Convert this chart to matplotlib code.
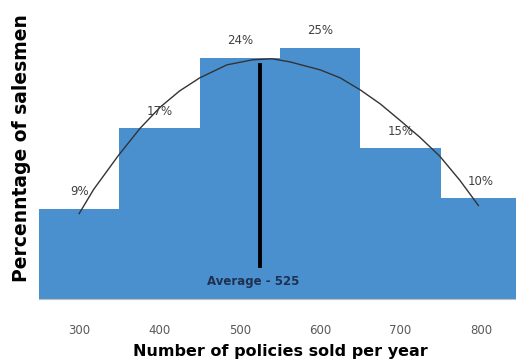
import numpy as np
import matplotlib
matplotlib.use("Agg")
import matplotlib.pyplot as plt

# bar data (policies sold per year, % of salesmen)
policies = [300, 400, 500, 600, 700, 800]
percent = [9, 17, 24, 25, 15, 10]
pct_labels = ["9%", "17%", "24%", "25%", "15%", "10%"]

# hand-drawn bell curve
curve_x = [300, 318, 349, 376, 401, 425, 450, 484, 516, 540, 562,
           600, 625, 650, 675, 699, 724, 749, 774, 797]
curve_y = [8.5, 10.9, 14.3, 17.0, 19.1, 20.7, 22.0, 23.3, 23.8, 23.9, 23.6,
           22.8, 22.0, 20.8, 19.4, 17.8, 16.1, 14.2, 11.8, 9.3]

avg_value = 525
avg_line = [3.3, 23.3]

fig = plt.figure(figsize=(5.16, 3.61), dpi=100)
ax = fig.add_axes([39/516, 1 - 299/361, 482/516, 299/361])

ax.bar(policies, percent, width=100, color='#4A90CF', zorder=1)
ax.plot(curve_x, curve_y, color='#333333', lw=1.0, zorder=2)
ax.plot([avg_value, avg_value], avg_line, color='black', lw=2.8, zorder=3)
ax.text(avg_value - 8, 1.7, "Average - 525", ha='center', va='center',
        fontsize=8.5, color='#1F3050', fontweight='bold')

for x, y, s in zip(policies, percent, pct_labels):
    ax.text(x, y + 1.7, s, ha='center', va='center', fontsize=8.5, color='#404040')

ax.set_xlim(250, 850)
ax.set_ylim(0, 29.75)
ax.set_xticks(policies)
ax.set_yticks([])
ax.tick_params(axis='x', length=0, pad=18, labelsize=8.5, labelcolor='#595959')
for side in ['top', 'right', 'left']:
    ax.spines[side].set_visible(False)
ax.spines['bottom'].set_color('#BFBFBF')

ax.set_xlabel("Number of policies sold per year", fontsize=11.5, fontweight='bold',
              labelpad=5)
fig.text(22/516, 1 - 148/361, "Percenntage of salesmen", rotation=90,
         ha='center', va='center', fontsize=13.5, fontweight='bold')

fig.savefig("out.png", dpi=100)
